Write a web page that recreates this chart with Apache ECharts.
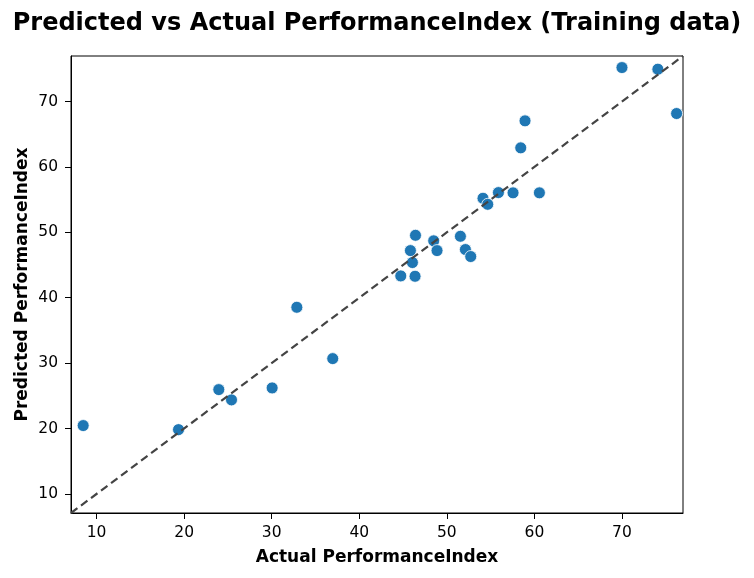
<!DOCTYPE html>
<html><head><meta charset="utf-8">
<script src="https://cdn.jsdelivr.net/npm/echarts@6/dist/echarts.min.js"></script>
<style>html,body{margin:0;padding:0;background:#fff}#c{width:754px;height:578px}</style>
</head><body><div id="c"></div>
<script>
const actual = [8.47,19.36,23.96,25.41,30.05,32.87,36.97,70.0,74.1,76.24,58.93,58.44,60.57,57.56,55.89,54.13,54.67,46.42,48.5,45.84,48.88,51.55,52.12,52.73,46.07,44.74,46.37];
const predicted = [20.45,19.83,25.95,24.38,26.21,38.54,30.69,75.2,74.95,68.17,67.05,62.92,56.04,56.04,56.08,55.21,54.29,49.55,48.7,47.21,47.21,49.4,47.37,46.3,45.38,43.34,43.28];
const tickValues = [10,20,30,40,50,60,70];
const axisMin = 7.08, axisMax = 76.97;

const font = 'DejaVu Sans';
function axis(name, gap, labelMargin) {
  return {
    type:'value', min:axisMin, max:axisMax,
    name:name, nameLocation:'middle', nameGap:gap, nameMoveOverlap:false,
    nameTextStyle:{fontFamily:font,fontWeight:'bold',fontSize:17,color:'#000'},
    axisLine:{show:true,lineStyle:{color:'#000',width:1}},
    axisTick:{show:true,length:6,lineStyle:{color:'#000',width:1},customValues:tickValues},
    axisLabel:{fontFamily:font,fontSize:15.5,color:'#000',margin:labelMargin,customValues:tickValues},
    splitLine:{show:false}
  };
}
const chart = echarts.init(document.getElementById('c'));
chart.setOption({
  animation:false,
  backgroundColor:'#fff',
  title:{text:'Predicted vs Actual PerformanceIndex (Training data)',left:'center',top:7,
    textStyle:{fontFamily:font,fontWeight:'bold',fontSize:24,color:'#000'}},
  grid:{left:71,right:71,top:56,bottom:65,show:true,borderColor:'#000',borderWidth:1,containLabel:false},
  xAxis: axis('Actual PerformanceIndex',36,12),
  yAxis: axis('Predicted PerformanceIndex',40,13),
  series:[
    {type:'scatter',data:actual.map((a,i)=>[a,predicted[i]]),symbolSize:12,
     itemStyle:{color:'#1f77b4',borderColor:'#fff',borderWidth:0.8,opacity:1},z:2},
    {type:'line',data:[[axisMin,axisMin],[axisMax,axisMax]],symbol:'none',
     lineStyle:{color:'#444',width:2.2,type:[8,4.5]},z:3}
  ]
});
</script></body></html>
